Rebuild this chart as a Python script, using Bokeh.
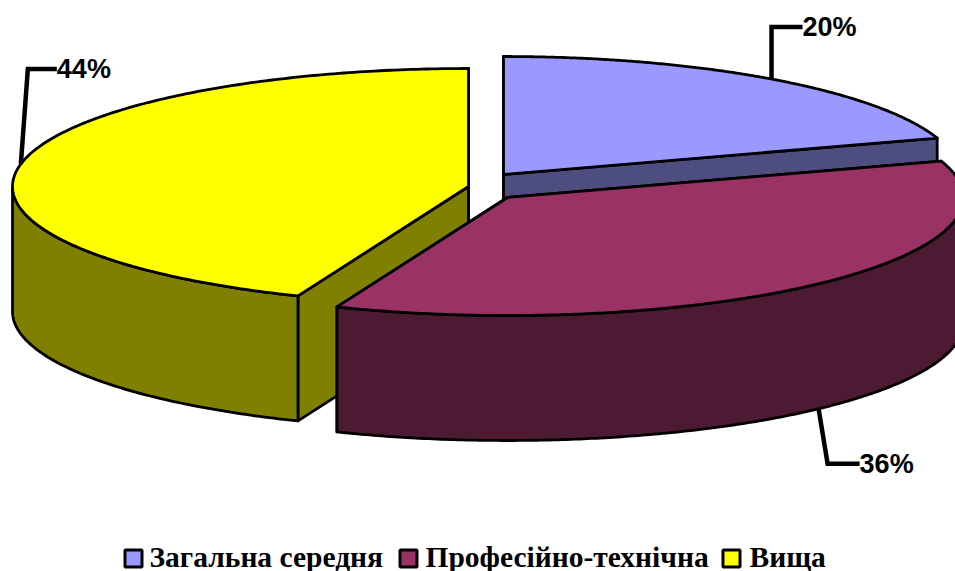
import numpy as np
from bokeh.plotting import figure
from bokeh.models import Range1d
from bokeh.core.properties import value
from bokeh.embed import file_html
from bokeh.resources import INLINE

categories = ["Загальна середня", "Професійно-технічна", "Вища"]
shares = [20.0, 36.1, 43.9]
percent_labels = ["20%", "36%", "44%"]
top_colors = ["#9999FF", "#993366", "#FFFF00"]
side_colors = ["#4D4D80", "#4D1A33", "#808000"]

W, H = 955, 571
RX, RY, DEPTH = 456, 118, 125
# apex of each exploded slice (screen pixels)
apex = [(503, 174), (507, 197), (468, 186)]
# elbow offset of each leader, from the rim point, and label offset from the elbow
elbow = [(0, -52), (9, 55), (7, -95)]
label_len = [31, 32, 29]

p = figure(width=W, height=H, output_backend="svg", toolbar_location=None,
           x_range=Range1d(0, W), y_range=Range1d(H, 0),
           min_border=0, outline_line_color=None, margin=(0, 0, 0, 0))
p.xaxis.visible = False
p.yaxis.visible = False
p.grid.visible = False
p.background_fill_color = "white"
p.border_fill_color = "white"


def rim(i, a):
    a = np.radians(a)
    return apex[i][0] + RX * np.sin(a), apex[i][1] - RY * np.cos(a)


LW = 2.8
starts = np.cumsum([0] + shares[:-1]) * 3.6
ends = np.cumsum(shares) * 3.6
anchors = []

for i in [0, 2, 1]:
    a0, a1 = starts[i], ends[i]
    ax, ay = apex[i]
    ang = np.linspace(a0, a1, 240)
    x, y = rim(i, ang)

    # inner cut faces
    for a in (a0, a1):
        ex, ey = rim(i, a)
        p.patch([ax, ex, ex, ax], [ay, ey, ey + DEPTH, ay + DEPTH],
                fill_color=side_colors[i], line_color="black", line_width=LW,
                line_join="round")

    # outer wall: only the part of the rim facing the viewer
    vis = (np.cos(np.radians(ang)) <= 0)
    if vis.any():
        vx, vy = x[vis], y[vis]
        p.patch(np.r_[vx, vx[::-1]], np.r_[vy, vy[::-1] + DEPTH],
                fill_color=side_colors[i], line_color="black", line_width=LW,
                line_join="round")

    # top face
    p.patch(np.r_[ax, x], np.r_[ay, y], fill_color=top_colors[i],
            line_color="black", line_width=LW, line_join="round")

    # leader and percentage label
    mid = (a0 + a1) / 2
    mx, my = rim(i, mid)
    if np.cos(np.radians(mid)) < 0:
        my += DEPTH
    anchors.append((i, mx, my))

for i, mx, my in anchors:
    ex, ey = mx + elbow[i][0], my + elbow[i][1]
    lx = ex + label_len[i]
    p.line([mx, ex, lx], [my, ey, ey], line_color="black", line_width=4.5,
           line_join="miter")
    p.text([lx], [ey], text=[percent_labels[i]], text_font=value("Liberation Sans"),
           text_font_style="bold", text_font_size="27px", text_color="black",
           text_align="left", text_baseline="middle")

# legend
leg_y = 558
swatch_x = [123, 398, 721]
text_x = [149, 425, 749]
for i, c in enumerate(categories):
    p.rect([swatch_x[i] + 10], [leg_y], width=17, height=17, fill_color=top_colors[i],
           line_color="black", line_width=3)
    p.text([text_x[i]], [556], text=[c], text_font=value("Liberation Serif"),
           text_font_style="bold", text_font_size="29.5px", text_color="black",
           text_align="left", text_baseline="middle")

open("out.html", "w").write(file_html(p, INLINE))
